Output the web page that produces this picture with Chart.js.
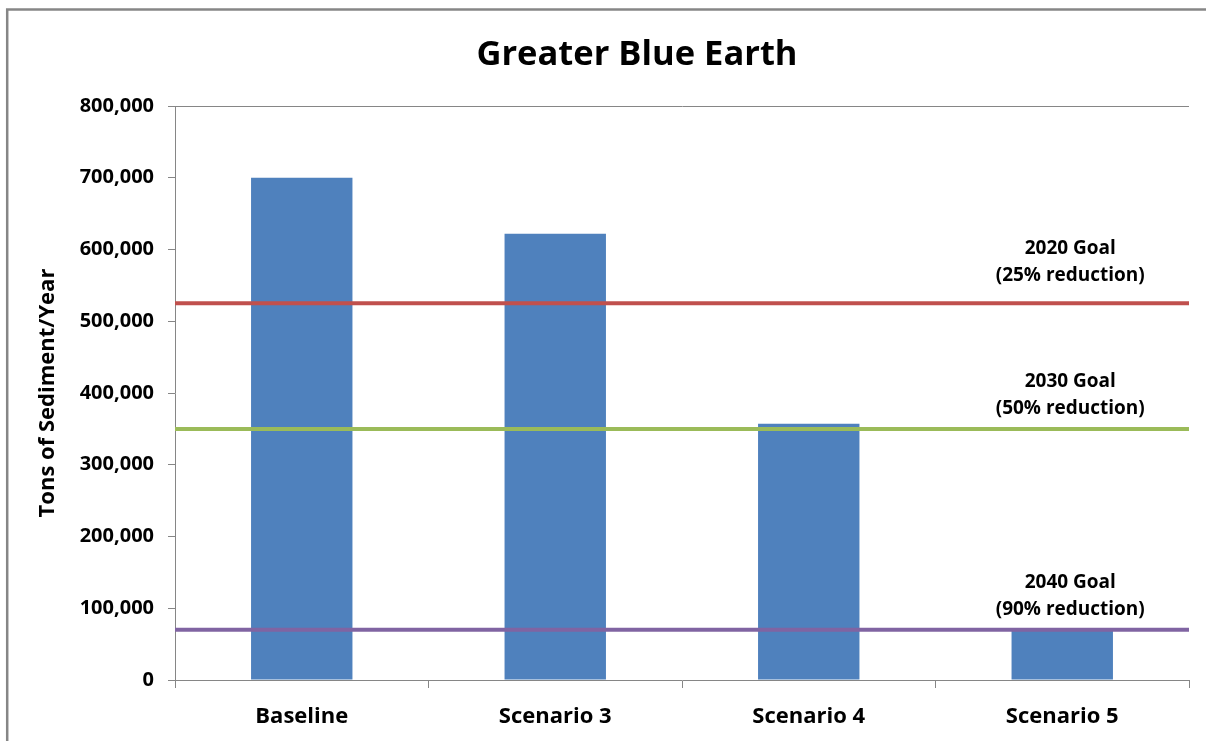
<!DOCTYPE html>
<html>
<head>
<meta charset="utf-8">
<script src="https://cdn.jsdelivr.net/npm/chart.js@4.4.0/dist/chart.umd.min.js"></script>
<style>
  html, body { margin: 0; padding: 0; background: #fff; overflow: hidden; }
  #wrap { width: 1206px; height: 741px; position: relative; }
</style>
</head>
<body>
<div id="wrap"><canvas id="sedimentChart"></canvas></div>
<script>
/* =========================
   DATA
========================= */

const categories = ['Baseline', 'Scenario 3', 'Scenario 4', 'Scenario 5'];
const sediment = [700000, 622000, 357000, 71000];

const goalValues = [525000, 350000, 70000];
const goalNames = ['2020 Goal', '2030 Goal', '2040 Goal'];
const goalNotes = ['(25% reduction)', '(50% reduction)', '(90% reduction)'];
const goalColors = ['#C0504D', '#9BBB59', '#8064A2'];

const yTicks = [0, 100000, 200000, 300000, 400000, 500000, 600000, 700000, 800000];

const FONT = '"Open Sans", Lato, sans-serif';
const AXIS_GREY = '#868686';

/* =========================
   PLUGINS
========================= */

const frame = {
    id: 'frame',
    beforeDraw(chart) {
        const ctx = chart.ctx;
        ctx.save();
        ctx.strokeStyle = AXIS_GREY;
        ctx.lineWidth = 2.5;
        ctx.beginPath();
        ctx.moveTo(7.2, 800);
        ctx.lineTo(7.2, 9.5);
        ctx.lineTo(1300, 9.5);
        ctx.stroke();

        // title
        ctx.fillStyle = '#000';
        ctx.font = 'bold 34.5px ' + FONT;
        ctx.textAlign = 'center';
        ctx.textBaseline = 'middle';
        ctx.fillText('Greater Blue Earth', 637, 55);
        ctx.restore();
    }
};

const goalText = {
    id: 'goalText',
    afterDatasetsDraw(chart) {
        const ctx = chart.ctx;
        const y = chart.scales.y;
        const x = chart.scales.x;
        const cx = x.getPixelForValue(categories.length - 1) + 8;

        ctx.save();
        ctx.fillStyle = '#000';
        ctx.font = 'bold 19px ' + FONT;
        ctx.textAlign = 'center';
        ctx.textBaseline = 'middle';

        goalValues.forEach(function(v, i){
            const py = y.getPixelForValue(v);
            const lift = i === 0 ? 8 : 0;
            ctx.fillText(goalNames[i], cx, py - 47 - lift);
            ctx.fillText(goalNotes[i], cx, py - 20 - lift);
        });

        ctx.restore();
    }
};

/* =========================
   CHART
========================= */

const goalSets = goalValues.map(function(v, i){
    return {
        type: 'line',
        label: goalNames[i],
        data: [{x: 0, y: v}, {x: 1, y: v}],
        xAxisID: 'x2',
        borderColor: goalColors[i],
        borderWidth: 4,
        pointRadius: 0,
        fill: false,
        order: 1
    };
});

new Chart(document.getElementById('sedimentChart'), {
    type: 'bar',

    data: {
        labels: categories,
        datasets: [{
            label: 'Tons of Sediment/Year',
            data: sediment,
            backgroundColor: '#4F81BD',
            barPercentage: 0.4,
            categoryPercentage: 1,
            grouped: false,
            order: 2
        }].concat(goalSets)
    },

    plugins: [frame, goalText],

    options: {
        responsive: true,
        maintainAspectRatio: false,
        animation: false,

        layout: {
            padding: { top: 106, left: 0, right: 17, bottom: 0 }
        },

        plugins: {
            legend: { display: false },
            tooltip: { enabled: false }
        },

        scales: {
            x: {
                offset: true,
                grid: {
                    offset: true,
                    drawOnChartArea: false,
                    tickLength: 8,
                    tickColor: AXIS_GREY
                },
                border: { color: AXIS_GREY },
                ticks: {
                    color: '#000',
                    padding: 16,
                    font: { family: FONT, size: 22, weight: 'bold' }
                },
                afterFit: function(scale){ scale.height = 61; }
            },

            x2: {
                type: 'linear',
                display: false,
                offset: false,
                min: 0,
                max: 1
            },

            y: {
                min: 0,
                max: 800000,
                afterBuildTicks: function(scale){
                    scale.ticks = yTicks.map(function(v){ return {value: v}; });
                },
                grid: {
                    color: function(c){
                        return c.tick && c.tick.value === 800000 ? AXIS_GREY : 'rgba(0,0,0,0)';
                    },
                    tickColor: AXIS_GREY,
                    tickLength: 7
                },
                border: { color: AXIS_GREY },
                ticks: {
                    color: '#000',
                    padding: 14,
                    font: { family: FONT, size: 20, weight: 'bold' },
                    callback: function(value){
                        return value.toLocaleString('en-US');
                    }
                },
                title: {
                    display: true,
                    text: 'Tons of Sediment/Year',
                    color: '#000',
                    padding: { top: 35, bottom: 0 },
                    font: { family: FONT, size: 22, weight: 'bold' }
                },
                afterFit: function(scale){ scale.width = 175; }
            }
        }
    }
});
</script>
</body>
</html>
